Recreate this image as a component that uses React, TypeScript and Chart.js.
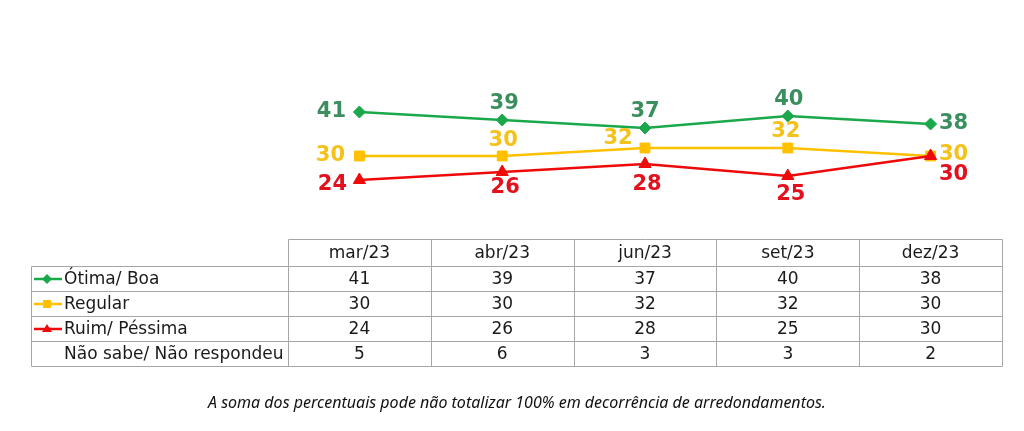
import React, { useEffect, useRef } from "react";
import { Chart, registerables } from "chart.js";

Chart.register(...registerables);

const categories = ["mar/23", "abr/23", "jun/23", "set/23", "dez/23"];
const otimaBoa = [41, 39, 37, 40, 38];
const regular = [30, 30, 32, 32, 30];
const ruimPessima = [24, 26, 28, 25, 30];
const naoSabe = [5, 6, 3, 3, 2];
const seriesNames = ["Ótima/ Boa", "Regular", "Ruim/ Péssima", "Não sabe/ Não respondeu"];
const footnote = "A soma dos percentuais pode não totalizar 100% em decorrência de arredondamentos.";

// label placement offsets (style only): [dx, dy] relative to point
const greenOffsets = [[-28, 0], [2, -16], [0, -16], [1, -16], [23, 0]];
const yellowOffsets = [[-29, 0], [1, -15], [-27, -9], [-2, -16], [23, -1]];
const redOffsets = [[-27, 5], [3, 16], [2, 21], [3, 19], [23, 19]];

const GREEN_LINE = "#1aa84a";
const GREEN_TEXT = "#3b8f5e";
const YELLOW_LINE = "#ffc000";
const YELLOW_TEXT = "#f5c21b";
const RED_LINE = "#ee0a0a";
const RED_TEXT = "#e3101e";

function drawMarker(ctx: CanvasRenderingContext2D, style: string, x: number, y: number, r: number) {
  ctx.beginPath();
  if (style === "rectRot") {
    ctx.moveTo(x, y - r);
    ctx.lineTo(x + r, y);
    ctx.lineTo(x, y + r);
    ctx.lineTo(x - r, y);
  } else if (style === "rect") {
    ctx.rect(x - r * 0.8, y - r * 0.8, r * 1.6, r * 1.6);
  } else {
    ctx.moveTo(x, y - r);
    ctx.lineTo(x + r, y + r * 0.6);
    ctx.lineTo(x - r, y + r * 0.6);
  }
  ctx.closePath();
  ctx.fill();
}

const labelPlugin = {
  id: "valueLabels",
  afterDatasetsDraw(chart: any) {
    const ctx = chart.ctx;
    const offsets = [greenOffsets, yellowOffsets, redOffsets];
    const colors = [GREEN_TEXT, YELLOW_TEXT, RED_TEXT];
    ctx.save();
    ctx.font = "bold 21px 'DejaVu Sans'";
    ctx.textAlign = "center";
    ctx.textBaseline = "middle";
    chart.data.datasets.forEach((ds: any, di: number) => {
      const meta = chart.getDatasetMeta(di);
      meta.data.forEach((pt: any, i: number) => {
        const [dx, dy] = offsets[di][i];
        ctx.fillStyle = colors[di];
        ctx.fillText(String(ds.data[i]), pt.x + dx, pt.y + dy);
      });
    });
    ctx.restore();
  },
};

const tablePlugin = {
  id: "dataTable",
  afterDraw(chart: any) {
    const ctx = chart.ctx;
    const xs = chart.scales.x;
    const n = categories.length;
    const colW = chart.chartArea.width / n;
    const tableLeft = 31;
    const firstColLeft = xs.getPixelForValue(0) - colW / 2;
    const right = xs.getPixelForValue(n - 1) + colW / 2;
    const rowLines = [239.5, 266.5, 291.5, 316.5, 341.5, 366.5];
    const rows = [otimaBoa, regular, ruimPessima, naoSabe];
    const lineColors = [GREEN_LINE, YELLOW_LINE, RED_LINE];
    const styles = ["rectRot", "rect", "triangle"];

    ctx.save();
    ctx.strokeStyle = "#a6a6a6";
    ctx.lineWidth = 1;
    ctx.beginPath();
    ctx.moveTo(Math.round(firstColLeft) + 0.5, rowLines[0]);
    ctx.lineTo(Math.round(right) + 0.5, rowLines[0]);
    for (let r = 1; r < rowLines.length; r++) {
      ctx.moveTo(tableLeft + 0.5, rowLines[r]);
      ctx.lineTo(Math.round(right) + 0.5, rowLines[r]);
    }
    ctx.moveTo(tableLeft + 0.5, rowLines[1]);
    ctx.lineTo(tableLeft + 0.5, rowLines[5]);
    for (let c = 0; c <= n; c++) {
      const x = Math.round(firstColLeft + c * colW) + 0.5;
      ctx.moveTo(x, rowLines[0]);
      ctx.lineTo(x, rowLines[5]);
    }
    ctx.stroke();

    ctx.font = "17px 'DejaVu Sans'";
    ctx.fillStyle = "#1a1a1a";
    ctx.textBaseline = "middle";
    ctx.textAlign = "center";
    categories.forEach((c, i) => {
      ctx.fillText(c, xs.getPixelForValue(i), (rowLines[0] + rowLines[1]) / 2 + 1);
    });
    rows.forEach((vals, r) => {
      const yMid = (rowLines[r + 1] + rowLines[r + 2]) / 2 + 1;
      vals.forEach((v, i) => {
        ctx.fillText(String(v), xs.getPixelForValue(i), yMid);
      });
    });
    ctx.textAlign = "left";
    rows.forEach((_, r) => {
      const yMid = (rowLines[r + 1] + rowLines[r + 2]) / 2 + 1;
      ctx.fillStyle = "#1a1a1a";
      ctx.fillText(seriesNames[r], 64, yMid);
      if (r < 3) {
        ctx.strokeStyle = lineColors[r];
        ctx.lineWidth = 2.5;
        ctx.beginPath();
        ctx.moveTo(34, yMid - 1);
        ctx.lineTo(62, yMid - 1);
        ctx.stroke();
        ctx.fillStyle = lineColors[r];
        drawMarker(ctx, styles[r], 47, yMid - 1, 5);
      }
    });

    ctx.font = "italic 16px 'Noto Sans'";
    ctx.fillStyle = "#111";
    ctx.textAlign = "center";
    ctx.fillText(footnote, 517, 403);
    ctx.restore();
  },
};

export default function App() {
  const ref = useRef<HTMLCanvasElement | null>(null);
  useEffect(() => {
    if (!ref.current) return;
    const chart = new Chart(ref.current, {
      type: "line",
      data: {
        labels: categories,
        datasets: [
          {
            label: seriesNames[0],
            data: otimaBoa,
            borderColor: GREEN_LINE,
            backgroundColor: GREEN_LINE,
            borderWidth: 2.5,
            pointStyle: "rectRot",
            pointRadius: 6,
            pointBorderWidth: 1,
            order: 3,
          },
          {
            label: seriesNames[1],
            data: regular,
            borderColor: YELLOW_LINE,
            backgroundColor: YELLOW_LINE,
            borderWidth: 2.5,
            pointStyle: "rect",
            pointRadius: 7,
            pointBorderWidth: 1,
            order: 2,
          },
          {
            label: seriesNames[2],
            data: ruimPessima,
            borderColor: RED_LINE,
            backgroundColor: RED_LINE,
            borderWidth: 2.5,
            pointStyle: "triangle",
            pointRadius: 7,
            pointBorderWidth: 1,
            order: 1,
          },
        ],
      },
      options: {
        responsive: false,
        animation: false,
        layout: { padding: { left: 288, right: 22, top: 96, bottom: 235 } },
        plugins: { legend: { display: false }, tooltip: { enabled: false } },
        scales: {
          x: { display: false, offset: true },
          y: { display: false, min: 20, max: 45 },
        },
      },
      plugins: [labelPlugin, tablePlugin],
    });
    return () => chart.destroy();
  }, []);
  return (
    <div style={{ position: "fixed", left: 0, top: 0, width: 1024, height: 431, background: "#fff" }}>
      <canvas ref={ref} width={1024} height={431} style={{ width: 1024, height: 431, display: "block" }} />
    </div>
  );
}
